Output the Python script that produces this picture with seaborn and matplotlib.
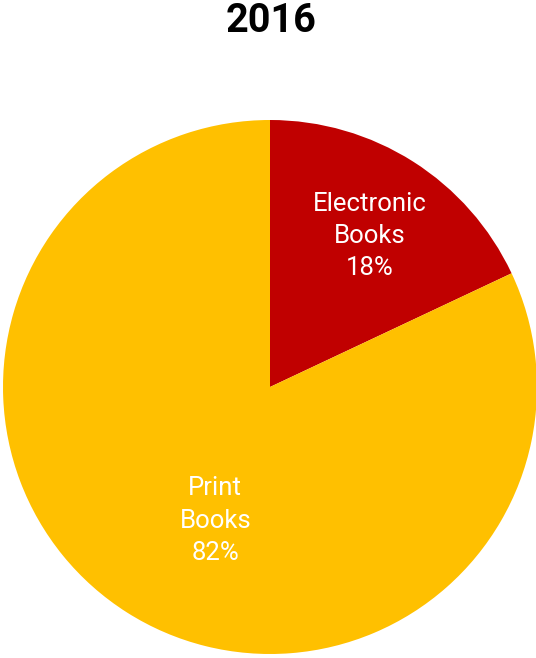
import matplotlib
matplotlib.use("Agg")
import matplotlib.pyplot as plt
import seaborn as sns

categories = ["Electronic\nBooks", "Print\nBooks"]
values = [18, 82]
colors = ["#C00000", "#FFC000"]
title = "2016"

sns.set_theme(style="white")
plt.rcParams['font.family'] = ['Roboto', 'DejaVu Sans']

fig = plt.figure(figsize=(5.36, 6.58), dpi=100)
ax = fig.add_axes([3/536, 4/658, 534/536, 534/658])
wedges, _ = ax.pie(values, colors=sns.color_palette(colors), startangle=90,
                   counterclock=False, wedgeprops=dict(linewidth=0))
ax.set_xlim(-1, 1)
ax.set_ylim(-1, 1)
ax.set_aspect('equal')
ax.axis('off')

label_pos = [(0.372, 0.566), (-0.205, -0.50)]
for cat, v, (x, y) in zip(categories, values, label_pos):
    ax.text(x, y, f"{cat}\n{v}%", ha='center', va='center', color='white',
            fontsize=18.5, linespacing=1.43)

fig.text(271/536, 1 - 21/658, title, ha='center', va='center',
         fontsize=28.5, fontweight='bold', color='black')

fig.savefig("out.png", dpi=100)
